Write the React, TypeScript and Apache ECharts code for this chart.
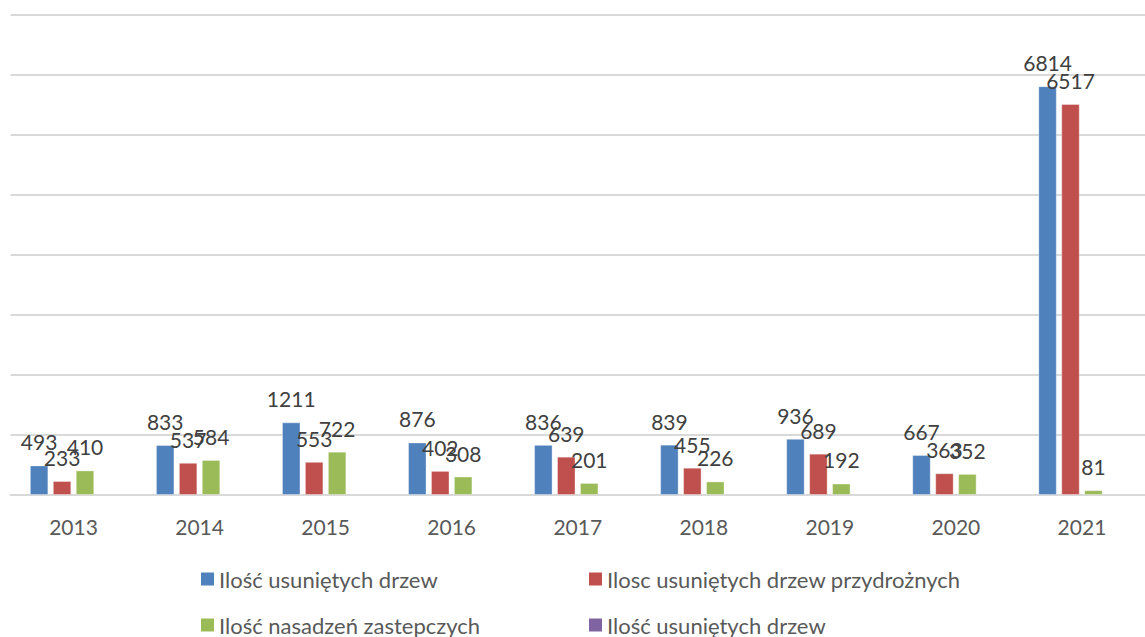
import React, { useEffect, useRef } from "react";
import * as echarts from "echarts";

const years = ["2013", "2014", "2015", "2016", "2017", "2018", "2019", "2020", "2021"];
const removedTrees = [493, 833, 1211, 876, 836, 839, 936, 667, 6814];
const removedRoadside = [233, 537, 553, 402, 639, 455, 689, 363, 6517];
const replacementPlantings = [410, 584, 722, 308, 201, 226, 192, 352, 81];
const removedTreesExtra: (number | null)[] = [null, null, null, null, null, null, null, null, null];

const seriesNames = [
  "Ilość usuniętych drzew",
  "Ilosc usuniętych drzew przydrożnych",
  "Ilość nasadzeń zastepczych",
  "Ilość usuniętych drzew\u200B",
];
const colors = ["#4F81BD", "#C0504D", "#9BBB59", "#8064A2"];

const FONT = "Lato";

export default function App() {
  const ref = useRef<HTMLDivElement>(null);
  useEffect(() => {
    if (!ref.current) return;
    const chart = echarts.init(ref.current, undefined, { renderer: "svg" });
    const label = {
      show: true,
      position: "top" as const,
      distance: 13,
      fontFamily: FONT,
      fontSize: 21,
      color: "#404040",
    };
    const datasets = [removedTrees, removedRoadside, replacementPlantings, removedTreesExtra];
    const legendPos = [
      { left: 201, top: 568 },
      { left: 589, top: 568 },
      { left: 201, top: 614 },
      { left: 589, top: 614 },
    ];
    chart.setOption({
      animation: false,
      backgroundColor: "#ffffff",
      textStyle: { fontFamily: FONT },
      grid: { left: 10.5, right: -5, top: 15, bottom: 142, containLabel: false },
      xAxis: {
        type: "category",
        data: years,
        axisLine: { show: true, lineStyle: { color: "#D9D9D9", width: 2 } },
        axisTick: { show: false },
        axisLabel: { fontFamily: FONT, fontSize: 21, color: "#595959", margin: 21 },
      },
      yAxis: {
        type: "value",
        min: 0,
        max: 8000,
        interval: 1000,
        axisLabel: { show: false },
        axisLine: { show: false },
        axisTick: { show: false },
        splitLine: { lineStyle: { color: "#D9D9D9", width: 2 } },
      },
      legend: seriesNames.map((n, i) => ({
        data: [n],
        left: legendPos[i].left,
        top: legendPos[i].top,
        padding: 0,
        itemWidth: 13,
        itemHeight: 13,
        icon: "rect",
        itemStyle: { borderWidth: 0 },
        textStyle: { fontFamily: FONT, fontSize: 22, color: "#595959" },
        selectedMode: false,
      })),
      series: datasets.map((d, i) => ({
        name: seriesNames[i],
        type: "bar",
        data: d,
        barWidth: 18.5,
        barGap: "24%",
        itemStyle: { color: colors[i], borderColor: "rgba(255,255,255,0.35)", borderWidth: 1 },
        label: i === 3 ? { show: false } : label,
      })),
    });
    return () => chart.dispose();
  }, []);
  return (
    <div
      ref={ref}
      style={{ position: "absolute", left: 0, top: 0, width: 1145, height: 637, background: "#fff" }}
    />
  );
}
